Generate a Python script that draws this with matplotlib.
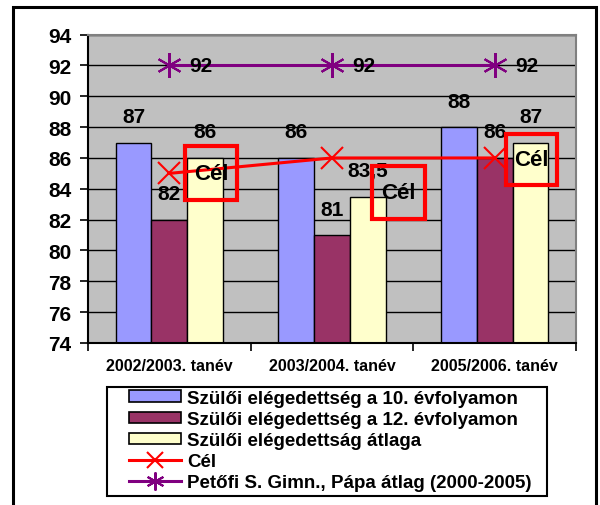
import numpy as np
import matplotlib
matplotlib.use("Agg")
import matplotlib.pyplot as plt
from matplotlib.patches import Rectangle
from matplotlib.lines import Line2D
from matplotlib.patches import Patch

plt.rcParams["font.family"] = ["Liberation Sans", "DejaVu Sans"]
plt.rcParams["font.weight"] = "bold"

# data
categories = ["2002/2003. tanév", "2003/2004. tanév", "2005/2006. tanév"]
grade10 = [87, 86, 88]
grade12 = [82, 81, 86]
average = [86, 83.5, 87]
target = [85, 86, 86]
school_avg = [92, 92, 92]

series_names = [
    "Szülői elégedettség a 10. évfolyamon",
    "Szülői elégedettség a 12. évfolyamon",
    "Szülői elégedettság átlaga",
    "Cél",
    "Petőfi S. Gimn., Pápa átlag (2000-2005)",
]
bar_colors = ["#9999FF", "#993366", "#FFFFCC"]
red = "#FF0000"
purple = "#800080"

fig = plt.figure(figsize=(6, 5.06), dpi=100)
ax = fig.add_axes([88 / 600, 1 - 344 / 506, 488 / 600, 308.4 / 506])
ax.set_facecolor("#C0C0C0")

x = np.arange(len(categories))
width = 0.22
for i, vals in enumerate([grade10, grade12, average]):
    bars = ax.bar(x + (i - 1) * width, vals, width, bottom=0, color=bar_colors[i],
                  edgecolor="black", linewidth=1.0, zorder=2)
    for b, v in zip(bars, vals):
        txt = f"{v:g}".replace(".", ",")
        ax.annotate(txt, (b.get_x() + b.get_width() / 2, v), xytext=(0, 26),
                    textcoords="offset pixels", ha="center", va="center",
                    fontsize=15, fontweight="bold", zorder=5)

ax.plot(x, target, color=red, lw=2.2, marker="x", markersize=16, mew=1.5, zorder=4)
ax.plot(x, school_avg, color=purple, lw=2.2, marker=(6, 2, 0), markersize=18, mew=1.5, zorder=4)

for xi, v in zip(x, school_avg):
    ax.annotate(f"{v:g}", (xi, v), xytext=(32, 0), textcoords="offset pixels",
                ha="center", va="center", fontsize=15, fontweight="bold", zorder=5)

ax.set_ylim(74, 94)
ax.set_xlim(-0.5, 2.5)
ax.set_yticks(np.arange(74, 95, 2))
ax.tick_params(axis="y", labelsize=15, length=6, width=1.2, pad=6)
ax.set_xticks([-0.5, 0.5, 1.5, 2.5])
ax.set_xticklabels([])
ax.set_xticks(x, minor=True)
ax.set_xticklabels(categories, minor=True, fontsize=11.5, fontweight="bold")
ax.tick_params(axis="x", which="major", length=6, width=1.2, direction="out")
ax.tick_params(axis="x", which="minor", length=0, pad=11)
ax.grid(axis="y", color="black", lw=1.0, zorder=1)
ax.set_axisbelow(True)
for s in ["left", "bottom"]:
    ax.spines[s].set_color("black")
    ax.spines[s].set_linewidth(1.5)
for s in ["top", "right"]:
    ax.spines[s].set_color("#808080")
    ax.spines[s].set_linewidth(1.5)

# "Cél" data labels with red frames (offsets in pixels from each marker)
label_offsets = [(42, 0), (66, -35), (37, -2)]
box_sizes = [(52, 54), (53, 53), (51, 51)]
fig.canvas.draw()
for xi, v, (dx, dy), (bw, bh) in zip(x, target, label_offsets, box_sizes):
    ax.annotate(series_names[3], (xi, v), xytext=(dx, dy), textcoords="offset pixels",
                ha="center", va="center", fontsize=16, fontweight="bold", zorder=6)
    cx, cy = ax.transData.transform((xi, v)) + np.array([dx, dy])
    p0 = ax.transData.inverted().transform((cx - bw / 2, cy - bh / 2))
    p1 = ax.transData.inverted().transform((cx + bw / 2, cy + bh / 2))
    ax.add_patch(Rectangle(p0, p1[0] - p0[0], p1[1] - p0[1], fill=False,
                           edgecolor=red, lw=3.0, zorder=6, clip_on=False))

handles = [Patch(facecolor=c, edgecolor="black", lw=1.2) for c in bar_colors]
handles.append(Line2D([], [], color=red, lw=2.2, marker="x", markersize=12, mew=1.5))
handles.append(Line2D([], [], color=purple, lw=2.2, marker=(6, 2, 0), markersize=13, mew=1.5))
leg = fig.legend(handles, series_names, loc="center left",
                 bbox_to_anchor=(129 / 600, 1 - 441.5 / 506),
                 prop={"size": 13.5, "weight": "bold"}, frameon=False,
                 handlelength=2.75, handleheight=0.55, handletextpad=0.35,
                 labelspacing=0.22, borderpad=0.0, borderaxespad=0.0)

# legend frame and outer chart frame
fig.add_artist(Rectangle((107 / 600, 1 - 497 / 506), 440 / 600, 109 / 506, fill=False,
                         edgecolor="black", lw=1.5, transform=fig.transFigure))
fig.add_artist(Rectangle((13 / 600, -0.02), 583 / 600, 1.02 - 8 / 506, fill=False,
                         edgecolor="black", lw=2.2, transform=fig.transFigure))

fig.savefig("out.png", dpi=100)
